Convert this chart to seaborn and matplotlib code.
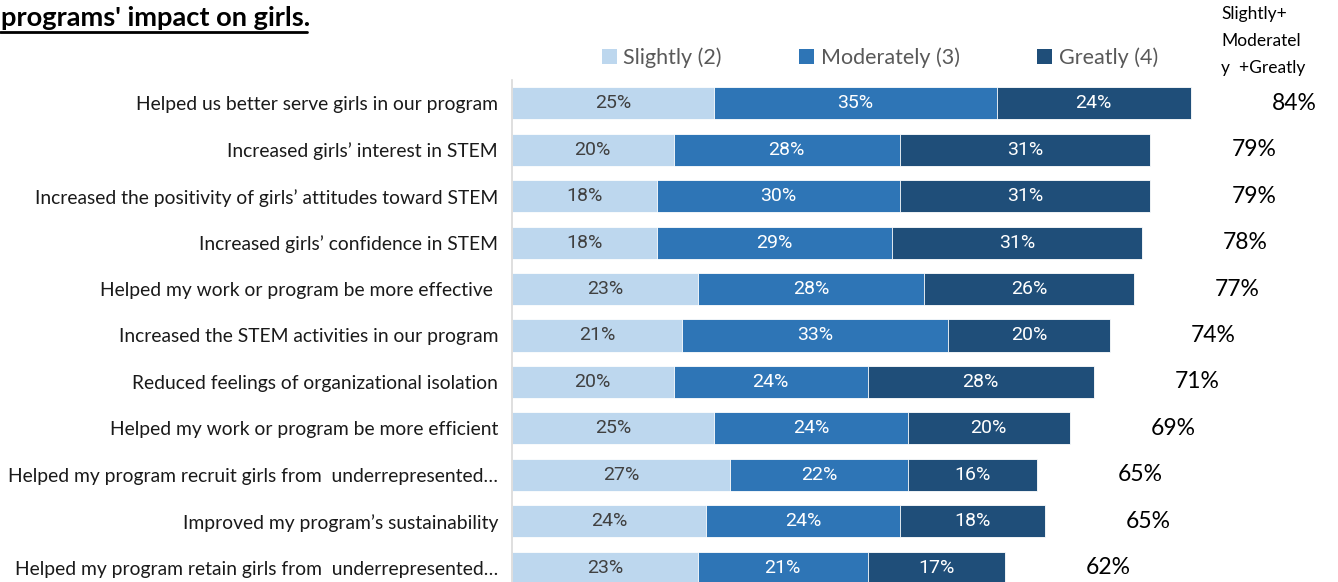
import matplotlib
matplotlib.use("Agg")
import matplotlib.pyplot as plt
from matplotlib.lines import Line2D
from matplotlib.patches import Patch
import numpy as np
import pandas as pd
import seaborn as sns

# Survey items and the share of respondents per impact level (percent)
items = [
    "Helped us better serve girls in our program",
    "Increased girls\u2019 interest in STEM",
    "Increased the positivity of girls\u2019 attitudes toward STEM",
    "Increased girls\u2019 confidence in STEM",
    "Helped my work or program be more effective ",
    "Increased the STEM activities in our program",
    "Reduced feelings of organizational isolation",
    "Helped my work or program be more efficient",
    "Helped my program recruit girls from  underrepresented\u2026",
    "Improved my program\u2019s sustainability",
    "Helped my program retain girls from  underrepresented\u2026",
]
slightly = [25, 20, 18, 18, 23, 21, 20, 25, 27, 24, 23]
moderately = [35, 28, 30, 29, 28, 33, 24, 24, 22, 24, 21]
greatly = [24, 31, 31, 31, 26, 20, 28, 20, 16, 18, 17]
totals = [84, 79, 79, 78, 77, 74, 71, 69, 65, 65, 62]

level_names = ["Slightly (2)", "Moderately (3)", "Greatly (4)"]
colors = ["#BDD7EE", "#2E75B6", "#1F4E79"]
label_colors = ["#404040", "white", "white"]

df = pd.DataFrame({
    "item": items,
    "slightly": slightly,
    "moderately": moderately,
    "greatly": greatly,
    "total": totals,
})
df["cum1"] = df["slightly"]
df["cum2"] = df["slightly"] + df["moderately"]
df["cum3"] = df["cum2"] + df["greatly"]

sns.set_theme(style="white")
plt.rcParams["font.family"] = ["Lato", "DejaVu Sans"]

fig = plt.figure(figsize=(13.38, 5.82), dpi=100)
ax = fig.add_axes([512 / 1338, -9 / 582, 808 / 1338, 511 / 582])

# Stacked bars drawn as overlapping cumulative layers
bar_w = 0.69
for col, c in zip(["cum3", "cum2", "cum1"], colors[::-1]):
    sns.barplot(data=df, x=col, y="item", orient="h", color=c,
                width=bar_w, saturation=1, ax=ax, edgecolor="white",
                linewidth=0.6)

ax.set_xlim(0, 100)
ax.set_ylim(len(items) - 0.5, -0.5)
ax.set_xlabel("")
ax.set_ylabel("")
ax.set_xticks([])
ax.tick_params(axis="y", length=0, pad=10, labelsize=13.9, labelcolor="#1a1a1a")
for side in ["top", "right", "bottom"]:
    ax.spines[side].set_visible(False)
ax.spines["left"].set_color("#D9D9D9")
ax.spines["left"].set_linewidth(1.2)

# Segment value labels
for i, row in df.iterrows():
    starts = [0, row["cum1"], row["cum2"]]
    vals = [row["slightly"], row["moderately"], row["greatly"]]
    for s, v, tc in zip(starts, vals, label_colors):
        ax.text(s + v / 2, i, f"{v}%", ha="center", va="center",
                fontsize=14, color=tc, family=["Roboto", "DejaVu Sans"])

# Combined totals to the right of each bar
for i, row in df.iterrows():
    ax.text(row["cum3"] + 12.8, i, f"{row['total']}%", ha="center",
            va="center", fontsize=16.5, color="black", clip_on=False)

# Column header for the totals
fig.text(1221 / 1338, 1 - 6 / 582, "Slightly+\nModeratel\ny  +Greatly",
         ha="left", va="top", fontsize=12.5, color="black", linespacing=1.85)

# Legend
handles = [Patch(facecolor=c, edgecolor="none") for c in colors]
fig.legend(handles, level_names, loc="center", ncol=3,
           bbox_to_anchor=(880 / 1338, 1 - 58 / 582), frameon=False,
           fontsize=15.5, labelcolor="#595959", handlelength=0.7,
           handleheight=0.7, handletextpad=0.3, columnspacing=3.6)

# Title with underline
fig.text(1 / 1338, 1 - 18 / 582, "programs' impact on girls.", ha="left",
         va="center", fontsize=19.6, fontweight="bold", color="black")
fig.add_artist(Line2D([0, 307 / 1338], [1 - 32 / 582, 1 - 32 / 582],
                      color="black", linewidth=2, transform=fig.transFigure))

fig.savefig("out.png", dpi=100)
